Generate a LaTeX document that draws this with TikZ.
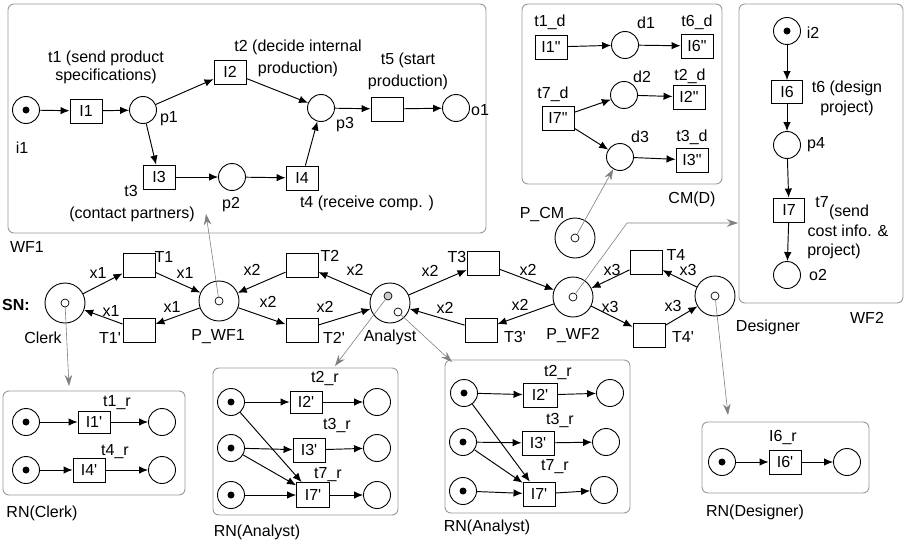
\documentclass[tikz,border=0pt]{standalone}
\usepackage{fontspec}
\setmainfont{Liberation Sans}
\usetikzlibrary{arrows.meta}
\definecolor{boxgray}{HTML}{999999}
\definecolor{arrgray}{HTML}{808080}
\begin{document}
\begin{tikzpicture}[x=1pt,y=-1pt,font=\fontsize{16}{18}\selectfont,
 plc/.style={circle,draw,minimum size=27pt,inner sep=0pt,line width=0.9pt},
 tplc/.style={plc,path picture={\fill (path picture bounding box.center) circle (3.5pt);}},
 splc/.style={circle,draw,minimum size=40pt,inner sep=0pt,line width=0.9pt},
 inr/.style={circle,draw,minimum size=8pt,inner sep=0pt,line width=0.7pt},
 trn/.style={rectangle,draw,minimum width=32pt,minimum height=24pt,inner sep=0pt,line width=0.9pt},
 arr/.style={-{Latex[length=9pt,width=7.5pt]},line width=0.95pt},
 garr/.style={-{Stealth[length=11pt,width=7.5pt]},draw=arrgray,line width=0.6pt},
 cont/.style={draw=boxgray,rounded corners=6pt,line width=0.9pt},
 lbl/.style={inner sep=0pt}]
\useasboundingbox (0,0) rectangle (907,543);

% ---------------- WF1 ----------------
\draw[cont] (8,4) rectangle (486,233);
\node[lbl] (wf1l) at (27,247) {WF1};
\node[tplc] (i1) at (26,110) {};
\node[lbl] (i1l) at (22,148) {i1};
\node[trn] (I1) at (86,111) {I1};
\node[plc] (p1) at (143,110) {};
\node[lbl] (p1l) at (169,119) {p1};
\node[trn] (I2) at (230,72) {I2};
\node[plc] (p3) at (321,108) {};
\node[lbl] (p3l) at (345,125) {p3};
\node[trn] (t5) at (387,109) {};
\node[plc] (o1) at (456,108) {};
\node[lbl] (o1l) at (480,110) {o1};
\node[trn] (I3) at (159,177) {I3};
\node[lbl] (t3l) at (131,191) {t3};
\node[plc] (p2) at (232,177) {};
\node[lbl] (p2l) at (231,205) {p2};
\node[trn] (I4) at (302,178) {I4};
\node[lbl,align=center] (t1l) at (106,67) {t1 (send product\\specifications)};
\node[lbl,align=center] (t2l) at (298,58) {t2 (decide internal\\[4pt]production)};
\node[lbl,align=center] (t5l) at (408,71) {t5 (start\\[4pt]production)};
\node[lbl] (t3d) at (132,214) {(contact partners)};
\node[lbl] (t4l) at (367,203) {t4 (receive comp. )};
\draw[arr] (i1) -- (I1);
\draw[arr] (I1) -- (p1);
\draw[arr] (p1) -- (I2);
\draw[arr] (I2) -- (p3);
\draw[arr] (p3) -- (t5);
\draw[arr] (t5) -- (o1);
\draw[arr] (p1) -- (I3);
\draw[arr] (I3) -- (p2);
\draw[arr] (p2) -- (I4);
\draw[arr] (I4) -- (p3);

% ---------------- CM(D) ----------------
\draw[cont] (522,4) rectangle (722,184);
\node[lbl] (cml) at (692,199) {CM(D)};
\node[trn] (I1d) at (551,47) {I1\textquotedbl};
\node[lbl] (t1dl) at (550,22) {t1\_d};
\node[plc] (d1) at (625,45) {};
\node[lbl] (d1l) at (646,23) {d1};
\node[trn] (I6d) at (697,46) {I6\textquotedbl};
\node[lbl] (t6dl) at (697,22) {t6\_d};
\node[plc] (d2) at (624,95) {};
\node[lbl] (d2l) at (642,77) {d2};
\node[trn] (I2d) at (689,97) {I2\textquotedbl};
\node[lbl] (t2dl) at (690,76) {t2\_d};
\node[trn] (I7d) at (558,118) {I7\textquotedbl};
\node[lbl] (t7dl) at (553,94) {t7\_d};
\node[plc] (d3) at (620,157) {};
\node[lbl] (d3l) at (640,137) {d3};
\node[trn] (I3d) at (692,160) {I3\textquotedbl};
\node[lbl] (t3dl) at (692,137) {t3\_d};
\draw[arr] (I1d) -- (d1);
\draw[arr] (d1) -- (I6d);
\draw[arr] (I7d) -- (d2);
\draw[arr] (I7d) -- (d3);
\draw[arr] (d2) -- (I2d);
\draw[arr] (d3) -- (I3d);

\node[splc] (pcm) at (575,238) {};
\node[inr] (pcmin) at (575,238) {};
\node[lbl] (pcml) at (542,215) {P\_CM};
\draw[garr] (pcmin) -- (d3);

% ---------------- WF2 ----------------
\draw[cont] (739,4) rectangle (903,303);
\node[lbl] (wf2l) at (867,318) {WF2};
\node[tplc] (i2) at (787,31) {};
\node[lbl] (i2l) at (813,33) {i2};
\node[trn,minimum width=31pt,minimum height=23pt] (I6) at (787,92) {I6};
\node[lbl,align=center] (t6l) at (847,98) {t6 (design\\[2pt]project)};
\node[plc] (p4) at (787,145) {};
\node[lbl] (p4l) at (816,145) {p4};
\node[trn,minimum width=31pt] (I7) at (789,210) {I7};
\node[lbl] (t7a) at (822,202) {t7};
\node[lbl] (t7b) at (849,212) {(send};
\node[lbl] (t7c) at (848,231) {cost info. \&};
\node[lbl] (t7e) at (834,251) {project)};
\node[plc] (o2) at (787,275) {};
\node[lbl] (o2l) at (818,275) {o2};
\draw[arr] (i2) -- (I6);
\draw[arr] (I6) -- (p4);
\draw[arr] (p4) -- (I7);
\draw[arr] (I7) -- (o2);

% ---------------- SN ----------------
\node[lbl,font=\fontsize{16}{18}\selectfont\bfseries] (snl) at (16,305) {SN:};
\node[splc] (clerk) at (65,303) {};
\node[inr] (clin) at (65,303) {};
\node[lbl] (clerkl) at (43,338) {Clerk};
\node[trn] (T1) at (139,265) {};
\node[lbl] (T1l) at (164,257) {T1};
\node[trn] (T1p) at (139,330) {};
\node[lbl] (T1pl) at (110,338) {T1\textquotesingle};
\node[splc] (pwf1) at (219,301) {};
\node[inr] (pw1in) at (219,301) {};
\node[lbl] (pwf1l) at (218,337) {P\_WF1};
\node[trn] (T2) at (302,265) {};
\node[lbl] (T2l) at (330,256) {T2};
\node[trn] (T2p) at (302,330) {};
\node[lbl] (T2pl) at (334,338) {T2\textquotesingle};
\node[splc] (analyst) at (390,303) {};
\node[inr,fill=gray!40] (anin1) at (388,296) {};
\node[inr] (anin2) at (398,312) {};
\node[lbl] (analystl) at (390,337) {Analyst};
\node[trn] (T3) at (483,263) {};
\node[lbl] (T3l) at (457,257) {T3};
\node[trn] (T3p) at (481,330) {};
\node[lbl] (T3pl) at (515,337) {T3\textquotesingle};
\node[splc] (pwf2) at (573,297) {};
\node[inr] (pw2in) at (573,297) {};
\node[lbl] (pwf2l) at (573,336) {P\_WF2};
\node[trn] (T4) at (646,262) {};
\node[lbl] (T4l) at (676,255) {T4};
\node[trn] (T4p) at (649,335) {};
\node[lbl] (T4pl) at (683,337) {T4\textquotesingle};
\node[splc] (designer) at (715,296) {};
\node[inr] (dsin) at (715,296) {};
\node[lbl] (designerl) at (768,327) {Designer};

\draw[arr] (clerk) -- (T1);
\draw[arr] (T1) -- (pwf1);
\draw[arr] (pwf1) -- (T1p);
\draw[arr] (T1p) -- (clerk);
\draw[arr] (analyst) -- (T2);
\draw[arr] (T2) -- (pwf1);
\draw[arr] (pwf1) -- (T2p);
\draw[arr] (T2p) -- (analyst);
\draw[arr] (analyst) -- (T3);
\draw[arr] (T3) -- (pwf2);
\draw[arr] (pwf2) -- (T3p);
\draw[arr] (T3p) -- (analyst);
\draw[arr] (designer) -- (T4);
\draw[arr] (T4) -- (pwf2);
\draw[arr] (pwf2) -- (T4p);
\draw[arr] (T4p) -- (designer);

\node[lbl] (e1) at (98,273) {x1};
\node[lbl] (e2) at (185,273) {x1};
\node[lbl] (e3) at (111,311) {x1};
\node[lbl] (e4) at (172,307) {x1};
\node[lbl] (e5) at (252,270) {x2};
\node[lbl] (e6) at (355,270) {x2};
\node[lbl] (e7) at (268,302) {x2};
\node[lbl] (e8) at (325,307) {x2};
\node[lbl] (e9) at (430,271) {x2};
\node[lbl] (e10) at (528,270) {x2};
\node[lbl] (e11) at (520,305) {x2};
\node[lbl] (e12) at (445,308) {x2};
\node[lbl] (e13) at (612,270) {x3};
\node[lbl] (e14) at (688,270) {x3};
\node[lbl] (e15) at (610,307) {x3};
\node[lbl] (e16) at (673,306) {x3};

% gray links
\coordinate (wf1b) at (206,214);
\draw[garr] (pw1in) -- (wf1b);
\coordinate (bend2) at (627,223);
\coordinate (wf2e) at (738,223);
\draw[garr] (pw2in) -- (bend2) -- (wf2e);

% ---------------- RN(Clerk) ----------------
\draw[cont] (3,391) rectangle (185,495);
\node[lbl] (rncl) at (42,513) {RN(Clerk)};
\node[tplc] (c1) at (26,422) {};
\node[trn,minimum height=22pt] (I1r) at (94,422) {I1\textquotesingle};
\node[lbl] (t1rl) at (117,403) {t1\_r};
\node[plc] (c1o) at (162,422) {};
\node[tplc] (c2) at (26,470) {};
\node[trn] (I4r) at (89,470) {I4\textquotesingle};
\node[lbl] (t4rl) at (115,452) {t4\_r};
\node[plc] (c2o) at (162,470) {};
\draw[arr] (c1) -- (I1r);
\draw[arr] (I1r) -- (c1o);
\draw[arr] (c2) -- (I4r);
\draw[arr] (I4r) -- (c2o);
\coordinate (rnct) at (69,386);
\draw[garr] (clin) -- (rnct);

% ---------------- RN(Analyst) 1 ----------------
\draw[cont] (213,368) rectangle (398,515);
\node[lbl] (rna1l) at (257,532) {RN(Analyst)};
\node[tplc] (a1) at (231,402) {};
\node[tplc] (a2) at (231,448) {};
\node[tplc] (a3) at (231,495) {};
\node[trn,minimum height=22pt] (I2r) at (306,402) {I2\textquotesingle};
\node[lbl] (t2rl) at (325,378) {t2\_r};
\node[trn] (I3r) at (309,450) {I3\textquotesingle};
\node[lbl] (t3rl) at (337,425) {t3\_r};
\node[trn,minimum width=33pt,minimum height=25pt] (I7r) at (313,495) {I7\textquotesingle};
\node[lbl] (t7rl) at (328,475) {t7\_r};
\node[plc] (a1o) at (377,402) {};
\node[plc] (a2o) at (377,448) {};
\node[plc] (a3o) at (377,495) {};
\draw[arr] (a1) -- (I2r);
\draw[arr] (a2) -- (I3r);
\draw[arr] (a3) -- (I7r);
\draw[arr] (a1) -- (I7r);
\draw[arr] (a2) -- (I7r);
\draw[arr] (I2r) -- (a1o);
\draw[arr] (I3r) -- (a2o);
\draw[arr] (I7r) -- (a3o);
\coordinate (rna1t) at (335,366);
\draw[garr] (anin1) -- (rna1t);

% ---------------- RN(Analyst) 2 ----------------
\draw[cont] (445,360) rectangle (630,513);
\node[lbl] (rna2l) at (487,527) {RN(Analyst)};
\node[tplc] (b1) at (464,393) {};
\node[tplc] (b2) at (463,442) {};
\node[tplc] (b3) at (463,491) {};
\node[trn,minimum width=34pt] (I2s) at (540,395) {I2\textquotesingle};
\node[lbl] (t2sl) at (558,372) {t2\_r};
\node[trn] (I3s) at (538,443) {I3\textquotesingle};
\node[lbl] (t3sl) at (560,420) {t3\_r};
\node[trn] (I7s) at (539,494) {I7\textquotesingle};
\node[lbl] (t7sl) at (555,467) {t7\_r};
\node[plc] (b1o) at (610,393) {};
\node[plc] (b2o) at (606,442) {};
\node[plc] (b3o) at (604,490) {};
\draw[arr] (b1) -- (I2s);
\draw[arr] (b2) -- (I3s);
\draw[arr] (b3) -- (I7s);
\draw[arr] (b1) -- (I7s);
\draw[arr] (b2) -- (I7s);
\draw[arr] (I2s) -- (b1o);
\draw[arr] (I3s) -- (b2o);
\draw[arr] (I7s) -- (b3o);
\coordinate (rna2t) at (452,362);
\draw[garr] (anin2) -- (rna2t);

% ---------------- RN(Designer) ----------------
\draw[cont] (702,422) rectangle (869,493);
\node[lbl] (rndl) at (755,512) {RN(Designer)};
\node[tplc] (dd1) at (722,462) {};
\node[trn] (I6r) at (785,462) {I6\textquotesingle};
\node[lbl] (t6rl) at (783,437) {I6\_r};
\node[plc] (dd2) at (847,462) {};
\draw[arr] (dd1) -- (I6r);
\draw[arr] (I6r) -- (dd2);
\coordinate (rndt) at (728,415);
\draw[garr] (dsin) -- (rndt);
\end{tikzpicture}
\end{document}
